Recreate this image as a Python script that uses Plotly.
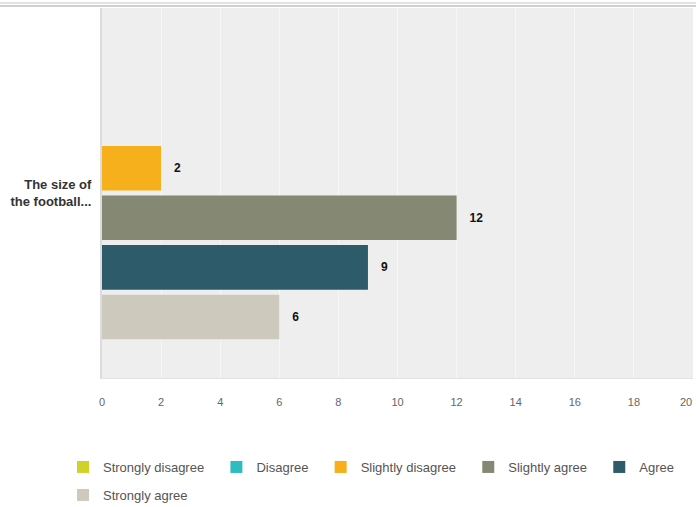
import plotly.graph_objects as go

categories = ["The size of<br>the football..."]
series_names = ["Strongly disagree", "Disagree", "Slightly disagree",
                "Slightly agree", "Agree", "Strongly agree"]
series_values = [0, 0, 2, 12, 9, 6]
series_colors = ["#d0d22a", "#2fbcc0", "#f5b01c", "#858873", "#2d5b69", "#cdc9bd"]
legend_rows = ["legend", "legend", "legend", "legend", "legend", "legend2"]
x_ticks = [0, 2, 4, 6, 8, 10, 12, 14, 16, 18, 20]
x_tick_labels = ["0", "2", "4", "6", "8", "10", "12", "14", "16", "18", "20"]

NB = "\u00a0"
# the last tick label sits at the right edge; it is drawn as an annotation
# nudged inward so that it stays fully visible (as in the original)
tick_text = x_tick_labels[:-1] + [""]

fig = go.Figure()
for name, val, col, lg in zip(series_names, series_values, series_colors, legend_rows):
    label = (NB * 3 + "<b>%d</b>" % val) if val else ""
    fig.add_trace(go.Bar(
        y=categories, x=[val], name=name + NB * 2, orientation="h",
        marker=dict(color=col, line=dict(width=0)),
        text=[label], textposition="outside", texttemplate="%{text}",
        textfont=dict(family="Liberation Sans, Arial, sans-serif", size=12, color="#111111"),
        cliponaxis=False, hoverinfo="x+name", legend=lg,
    ))

leg_common = dict(orientation="h", xanchor="left", yanchor="top",
                  font=dict(size=13, color="#555555"), traceorder="normal",
                  itemclick=False, tracegroupgap=0, bgcolor="rgba(0,0,0,0)")

fig.update_layout(
    width=696, height=507,
    margin=dict(l=102, r=3, t=8, b=129, autoexpand=False),
    paper_bgcolor="white", plot_bgcolor="#eeeeee",
    barmode="group", bargap=0.196, bargroupgap=0.1,
    font=dict(family="Liberation Sans, Arial, sans-serif", size=11, color="#555555"),
    xaxis=dict(range=[0, 20], tickvals=x_ticks, ticktext=tick_text, showgrid=True,
               gridcolor="#f6f6f6", gridwidth=1, zeroline=False, showline=True,
               linecolor="#e2e2e2", linewidth=1,
               tickfont=dict(size=11, color="#666666"), ticks="", ticklabelstandoff=14,
               ticklabeloverflow="allow", automargin=False, fixedrange=True),
    yaxis=dict(autorange="reversed", showgrid=False, zeroline=False, showline=True,
               linecolor="#dcdcdc", linewidth=2, ticks="", ticklabelstandoff=6,
               tickfont=dict(size=13, color="#333333"), fixedrange=True,
               automargin=False, tickprefix="<b>", ticksuffix="</b>"),
    legend=dict(x=-0.066, y=-0.2, **leg_common),
    legend2=dict(x=-0.066, y=-0.2 - 28 / 370, **leg_common),
    showlegend=True,
    annotations=[dict(x=x_ticks[-1], xref="x", y=0, yref="paper", text=x_tick_labels[-1],
                      showarrow=False, xanchor="right", yanchor="middle", yshift=-24,
                      xshift=1, font=dict(size=11, color="#666666"))],
    shapes=[
        dict(type="line", xref="paper", yref="paper", x0=-0.5, x1=1.5,
             y0=1 + 2/370, y1=1 + 2/370, line=dict(color="#d0d0d0", width=2)),
        dict(type="line", xref="paper", yref="paper", x0=-0.5, x1=1.5,
             y0=1 + 5/370, y1=1 + 5/370, line=dict(color="#d8d8d8", width=1.5)),
    ],
)

fig.write_html("out.html")
